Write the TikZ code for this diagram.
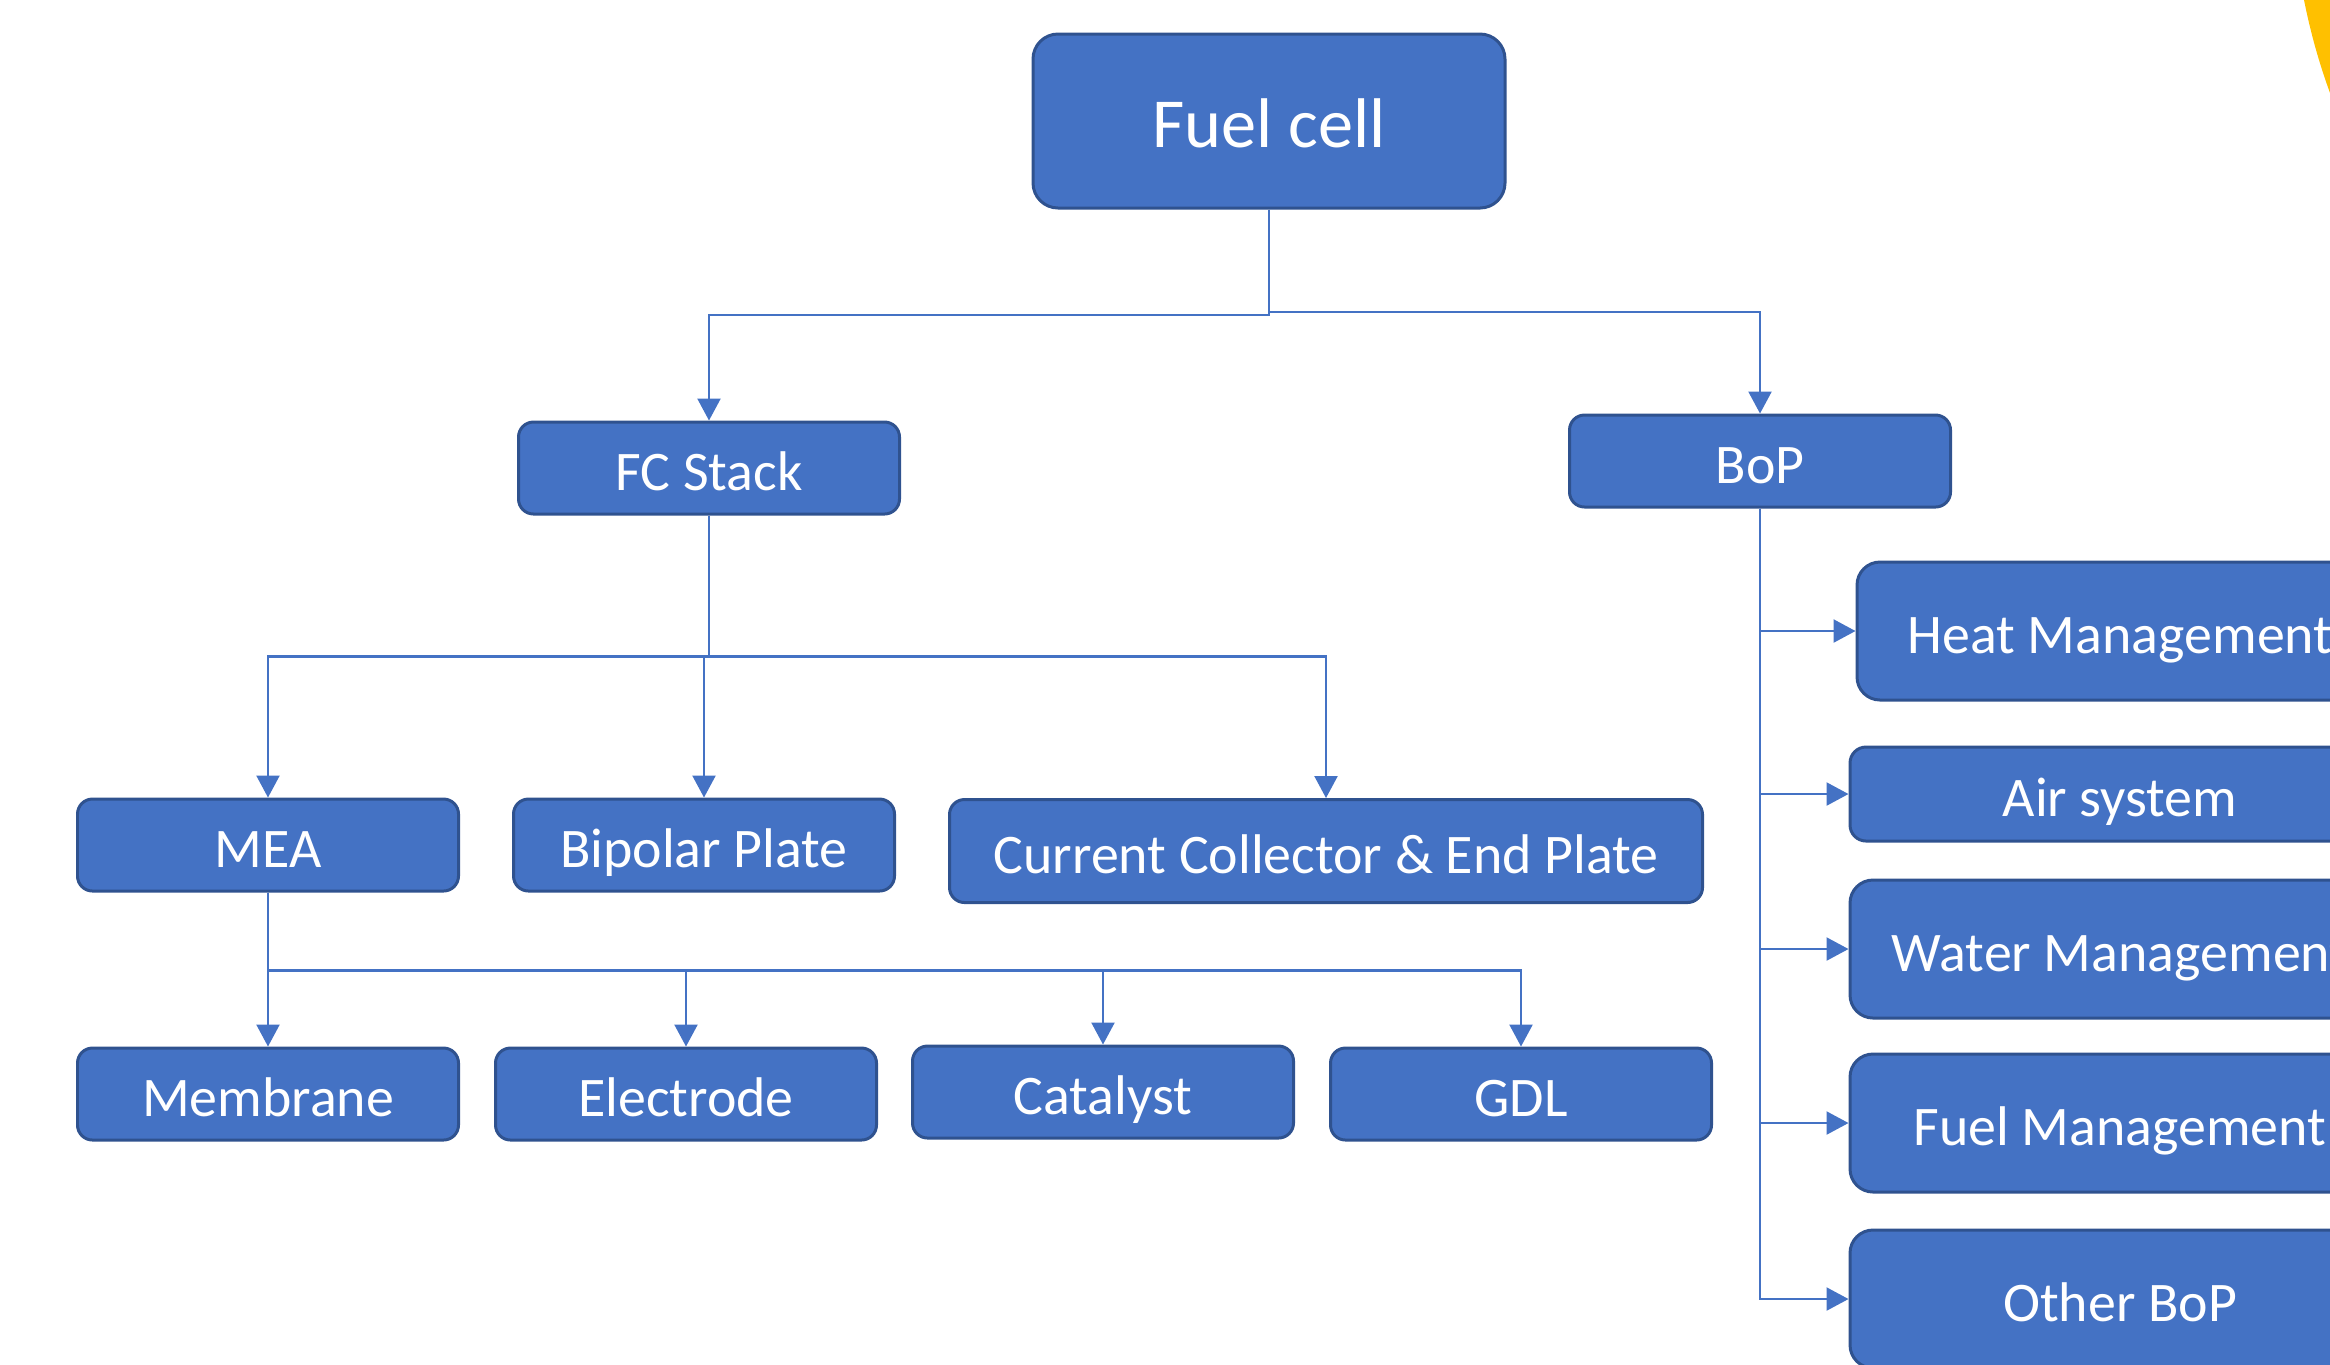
\documentclass[tikz,border=0pt]{standalone}
\usepackage{fontspec}
\setmainfont{Carlito}
\usepackage{tikz}
\usetikzlibrary{arrows.meta}

\definecolor{boxblue}{HTML}{4472C4}
\definecolor{boxedge}{HTML}{2F528F}
\definecolor{sunyellow}{HTML}{FFC000}

\tikzset{
  box/.style={draw=boxedge, line width=0.85pt, fill=boxblue, text=white,
    rounded corners=0.15cm, inner sep=0pt, minimum width=3.81cm, minimum height=0.92cm,
    font=\fontsize{15.9}{19}\selectfont, text height=15pt, text depth=2pt},
  sidebox/.style={box, minimum width=5.40cm, minimum height=1.38cm, rounded corners=0.23cm},
  link/.style={draw=boxblue, line width=0.65pt, -{Triangle[length=0.22cm,width=0.23cm]}}
}

\begin{document}
\begin{tikzpicture}
    \useasboundingbox (0,0) rectangle (23.30,-13.64);
    \clip (0,0) rectangle (23.30,-13.64);
    \fill[sunyellow] (23.04,0) .. controls (23.10,-0.30) and (23.18,-0.60) .. (23.30,-0.93) -- (23.30,0) -- cycle;
%% top of the tree
    \node[box, minimum width=4.72cm, minimum height=1.74cm, rounded corners=0.25cm,
      font=\fontsize{20}{24}\selectfont, text height=17pt] (fuelcell) at (12.69,-1.21) {Fuel cell};
    \node[box] (stack) at (7.09,-4.68) {FC Stack};
    \node[box] (bop) at (17.60,-4.61) {BoP};
%% stack parts
    \node[box] (mea) at (2.68,-8.45) {MEA};
    \node[box] (bipolar) at (7.04,-8.45) {Bipolar Plate};
    \node[box, minimum width=7.53cm, minimum height=1.03cm] (collector) at (13.26,-8.51) {Current Collector \& End Plate};
    \node[box] (membrane) at (2.68,-10.94) {Membrane};
    \node[box] (electrode) at (6.86,-10.94) {Electrode};
    \node[box] (catalyst) at (11.03,-10.92) {Catalyst};
    \node[box] (gdl) at (15.21,-10.94) {GDL};
%% balance of plant
    \node[sidebox, minimum width=5.26cm] (heat) at (21.20,-6.31) {Heat Management};
    \node[sidebox, minimum height=0.94cm, rounded corners=0.16cm] (air) at (21.20,-7.94) {Air system};
    \node[sidebox] (water) at (21.20,-9.49) {Water Management};
    \node[sidebox] (fuelmgmt) at (21.20,-11.23) {Fuel Management};
    \node[sidebox] (other) at (21.20,-12.99) {Other BoP};

    \coordinate (forkleft) at (12.69,-3.15);
    \coordinate (forkright) at (12.69,-3.12);
    \draw[link] (fuelcell.south) -- (forkleft) -| (stack.north);
    \draw[link] (fuelcell.south) -- (forkright) -| (bop.north);

    \draw[link] (stack.south) -- ++(0,-1.41) -| (mea.north);
    \draw[link] (stack.south) -- ++(0,-1.41) -| (bipolar.north);
    \draw[link] (stack.south) -- ++(0,-1.41) -| (collector.north);

    \draw[link] (mea.south) -- ++(0,-0.78) -| (membrane.north);
    \draw[link] (mea.south) -- ++(0,-0.78) -| (electrode.north);
    \draw[link] (mea.south) -- ++(0,-0.78) -| (catalyst.north);
    \draw[link] (mea.south) -- ++(0,-0.78) -| (gdl.north);

    \draw[link] (bop.south) |- (heat.west);
    \draw[link] (bop.south) |- (air.west);
    \draw[link] (bop.south) |- (water.west);
    \draw[link] (bop.south) |- (fuelmgmt.west);
    \draw[link] (bop.south) |- (other.west);
\end{tikzpicture}
\end{document}
